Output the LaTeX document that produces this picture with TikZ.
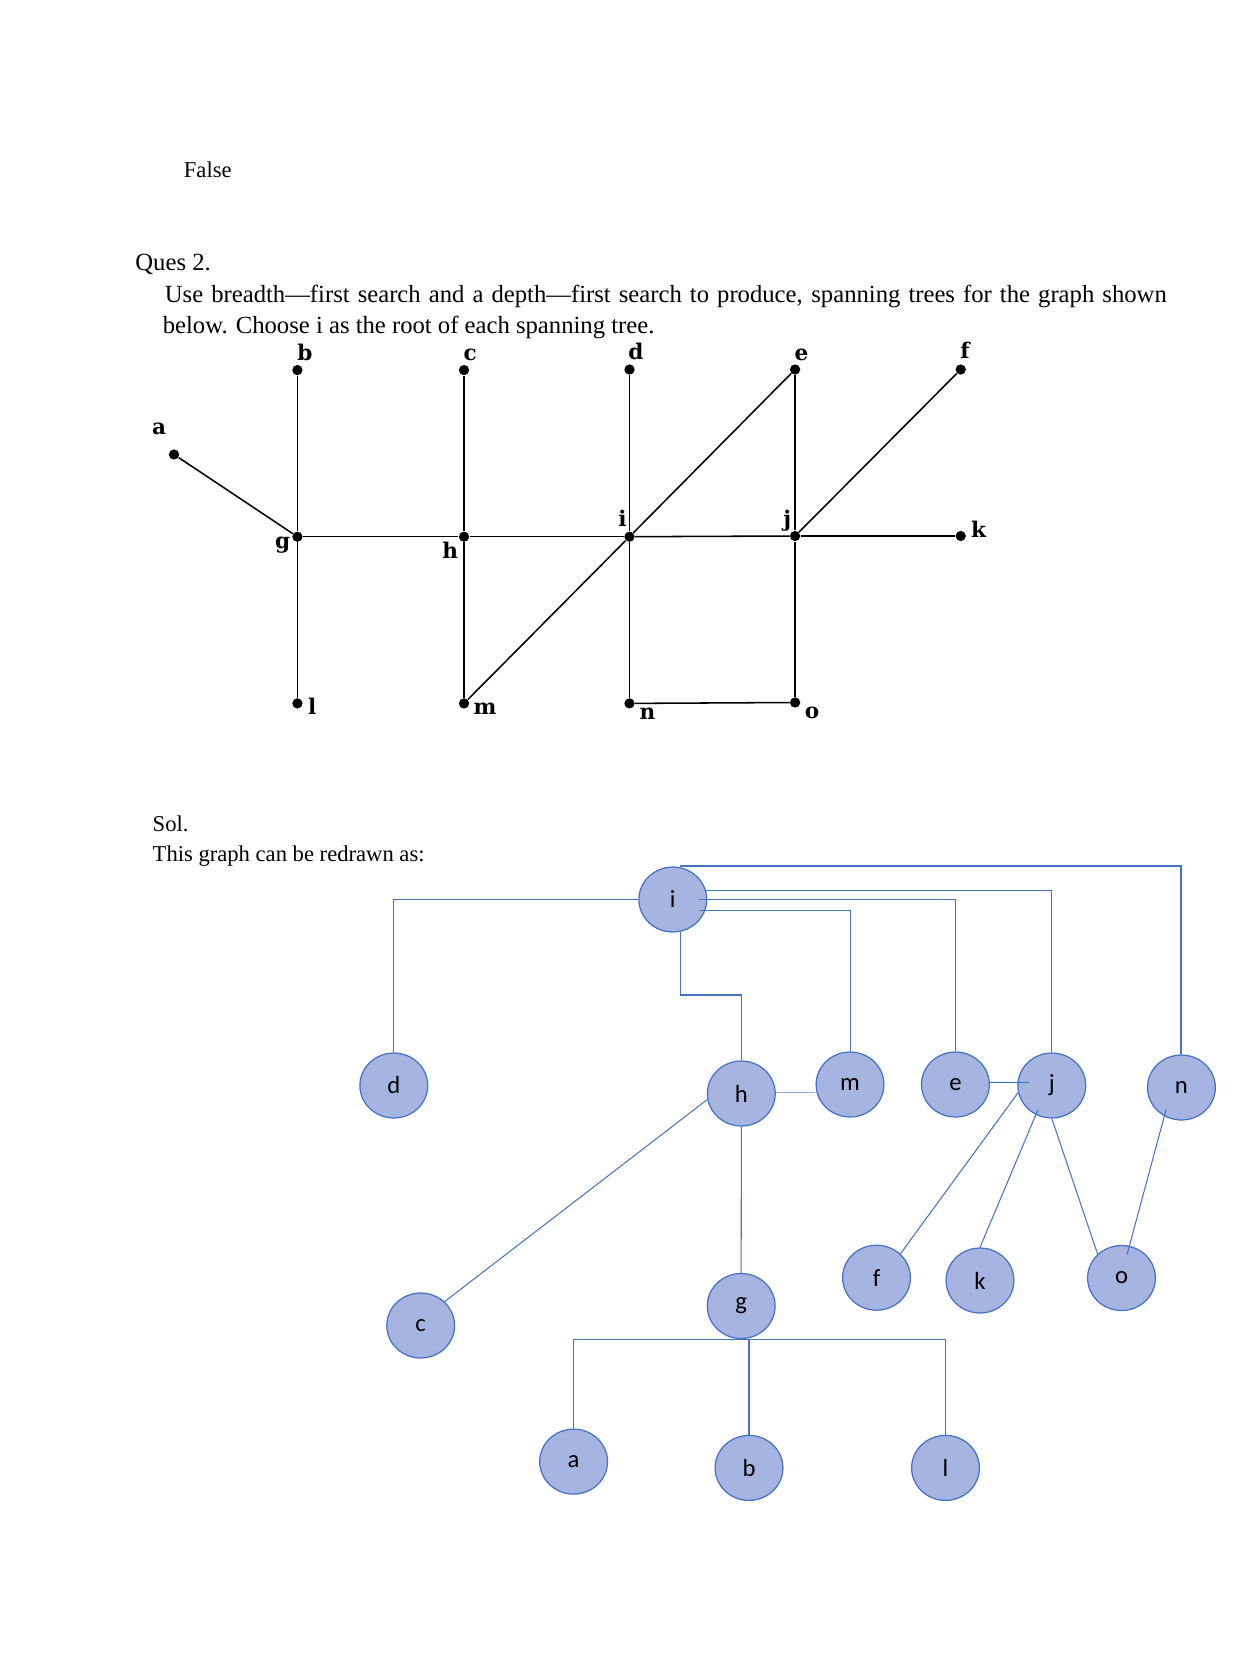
\documentclass[tikz,border=0pt]{standalone}
\usepackage{fontspec}
\setmainfont{Liberation Serif}
\newfontfamily\lblfont{DejaVu Serif}
\newfontfamily\calfont{Carlito}
\usetikzlibrary{shapes.geometric,calc}
\definecolor{nodefill}{RGB}{165,180,224}
\definecolor{nodeline}{RGB}{68,114,196}
\definecolor{lightline}{RGB}{143,170,220}
\begin{document}
\begin{tikzpicture}[x=0.4865pt,y=-0.4865pt,
  dot/.style={circle,fill=black,inner sep=0pt,minimum size=5pt},
  glabel/.style={font=\lblfont\bfseries\fontsize{10.5}{12}\selectfont,inner sep=0pt},
  gedge/.style={line width=0.75pt},
  tnode/.style={ellipse,draw=nodeline,fill=nodefill,line width=0.6pt,minimum width=33pt,minimum height=31.6pt,inner sep=0pt,font=\calfont\fontsize{12}{14}\selectfont},
  tedge/.style={draw=nodeline,line width=0.5pt},
  body/.style={font=\fontsize{12}{14}\selectfont,inner sep=0pt},
  smallbody/.style={font=\fontsize{11}{13}\selectfont,inner sep=0pt}
]
\useasboundingbox[fill=white] (0,0) rectangle (1258,1653);

% ---- text ----
\node[smallbody,anchor=base west] (tfalse) at (183.5,178) {False};
\node[body,anchor=base west] (tques) at (135,270.7) {Ques 2.};
\node[body,anchor=base west] (tuse) at (164.5,302.7) {\hbox to 487.4pt{Use breadth—first search and a depth—first search to produce, spanning trees for the graph shown}};
\node[body,anchor=base west] (tbelow) at (162.4,333.6) {below. Choose i as the root of each spanning tree.};
\node[smallbody,anchor=base west] (tsol) at (152.3,831.7) {Sol.};
\node[smallbody,anchor=base west] (tredraw) at (152.3,861.7) {This graph can be redrawn as:};

% ---- original graph ----
\node[dot] (gb) at (297.4,370.1) {};
\node[dot] (gc) at (464,370.1) {};
\node[dot] (gd) at (629.5,369.5) {};
\node[dot] (ge) at (795.1,369.5) {};
\node[dot] (gf) at (960.7,369.5) {};
\node[dot] (ga) at (174,454.5) {};
\node[dot] (gg) at (297.4,536.7) {};
\node[dot] (gh) at (464,536.7) {};
\node[dot] (gi) at (629.5,536.7) {};
\node[dot] (gj) at (795.1,536) {};
\node[dot] (gk) at (960.7,536) {};
\node[dot] (gl) at (297.4,703.4) {};
\node[dot] (gm) at (464,703.4) {};
\node[dot] (gn) at (629.5,703.4) {};
\node[dot] (go) at (795.1,702.5) {};

\node[glabel] (lb) at (304.8,352.5) {b};
\node[glabel] (lc) at (470.3,354.5) {c};
\node[glabel] (ld) at (635.9,351.7) {d};
\node[glabel] (le) at (801.4,354.5) {e};
\node[glabel] (lf) at (964.9,350.7) {f};
\node[glabel] (la) at (159.2,429) {a};
\node[glabel] (lg) at (282.6,545) {g};
\node[glabel] (lh) at (450.3,550.5) {h};
\node[glabel] (li) at (622.5,518.5) {i};
\node[glabel] (lj) at (787.2,520.5) {j};
\node[glabel] (lk) at (978.6,529.4) {k};
\node[glabel] (ll) at (312.1,706.5) {l};
\node[glabel] (lm) at (485,709) {m};
\node[glabel] (ln) at (647.5,713.5) {n};
\node[glabel] (lo) at (812,713) {o};

\draw[gedge] (ga) -- (gg);
\draw[gedge] (gb) -- (gg);
\draw[gedge] (gg) -- (gl);
\draw[gedge] (gg) -- (gh);
\draw[gedge] (gh) -- (gc);
\draw[gedge] (gh) -- (gm);
\draw[gedge] (gh) -- (gi);
\draw[gedge] (gm) -- (gi);
\draw[gedge] (gi) -- (ge);
\draw[gedge] (gi) -- (gd);
\draw[gedge] (gi) -- (gn);
\draw[gedge] (gi) -- (gj);
\draw[gedge] (gn) -- (go);
\draw[gedge] (gj) -- (go);
\draw[gedge] (gj) -- (ge);
\draw[gedge] (gj) -- (gf);
\draw[gedge] (gj) -- (gk);

% ---- redrawn tree ----
\node[tnode] (ti) at (672.8,899.5) {i};
\node[tnode] (td) at (393.8,1085.5) {d};
\node[tnode] (th) at (741.3,1093.5) {h};
\node[tnode] (tm) at (850,1084.5) {m};
\node[tnode] (te) at (955.4,1084.5) {e};
\node[tnode] (tj) at (1051.8,1085.5) {j};
\node[tnode] (tn) at (1181.4,1087.5) {n};
\node[tnode] (tc) at (420.7,1325.5) {c};
\node[tnode] (tf) at (876.5,1277.7) {f};
\node[tnode] (tk) at (980,1280.5) {k};
\node[tnode] (to) at (1121.5,1278) {o};
\node[tnode] (tg) at (741.2,1306) {g};
\node[tnode] (ta) at (573.6,1461.6) {a};
\node[tnode] (tb) at (749,1467.9) {b};
\node[tnode] (tl) at (945.5,1467.9) {l};

\coordinate (ihstart) at (680.3,932);
\coordinate (ihbend) at (741.3,995);

\draw[tedge] (ti.west) -| (td.north);
\draw[tedge] (ihstart) |- (ihbend) -- (th.north);
\draw[tedge] (ti.16) -| (tj.north);
\draw[tedge] ($(ti.center)+(26.5,0)$) -| (te.north);
\draw[tedge] ($(ti.center)+(26.5,11.2)$) -| (tm.north);
\draw[tedge,line width=1pt] ($(ti.north)+(7.5,0)$) -| (tn.north);
\draw[draw=lightline,line width=0.6pt] (th.east |- 0,1092.3) -- (tm.west |- 0,1092.3);
\draw[tedge] (te.east |- 0,1082.3) -- ($(tj.center)+(-23,-3.2)$);
\draw[tedge] (th.190) -- (tc.45);
\draw[tedge] (th.south) -- (tg.north);
\draw[tedge] (tj.192) -- (tf.45);
\draw[tedge] ($(tj.center)+(-14,24.5)$) -- (tk.north);
\draw[tedge] (tj.south) -- (to.135);
\draw[tedge] ($(tn.center)+(-15.3,22)$) -- ($(to.center)+(5.6,-23.7)$);
\draw[tedge] (ta.north) |- (tg.south) -| (tl.north);
\draw[tedge] (tg.south -| tb.north) -- (tb.north);
\end{tikzpicture}
\end{document}
